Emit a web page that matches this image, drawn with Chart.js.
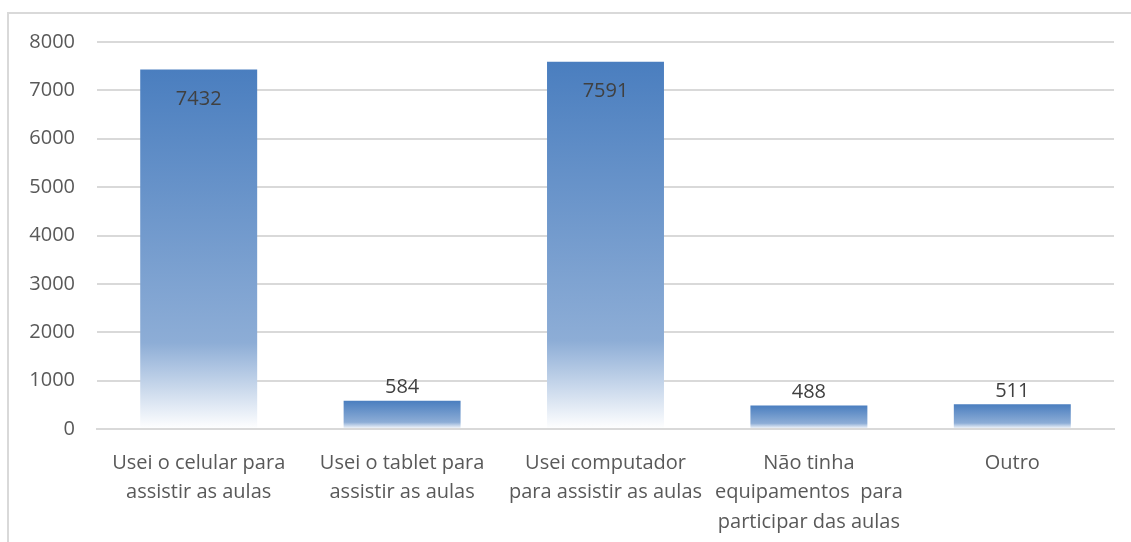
<!DOCTYPE html>
<html>
<head>
<meta charset="utf-8">
<script src="https://cdn.jsdelivr.net/npm/chart.js@4"></script>
<style>
  html, body { margin: 0; padding: 0; background: #fff; }
  #wrap { position: absolute; left: 0; top: 0; width: 1131px; height: 542px; }
  #frame { position: absolute; left: 7px; top: 12px; right: -4px; bottom: -4px;
           border-top: 2px solid #d9d9d9; border-left: 2px solid #d9d9d9; }
</style>
</head>
<body>
<div id="wrap">
  <div id="frame"></div>
  <canvas id="chart" width="1131" height="542"></canvas>
</div>
<script>
// categories and values
const categories = [
  ['Usei o celular para', 'assistir as aulas'],
  ['Usei o tablet para', 'assistir as aulas'],
  ['Usei computador', 'para assistir as aulas'],
  ['Não tinha', 'equipamentos  para', 'participar das aulas'],
  ['Outro']
];
const respostas = [7432, 584, 7591, 488, 511];
const yTicks = [0, 1000, 2000, 3000, 4000, 5000, 6000, 7000, 8000];

const FONT = '"Open Sans", Carlito, sans-serif';

// vertical gradient per bar, blue at top fading to white at base
function barGradient(context) {
  const chart = context.chart;
  const y = chart.scales.y;
  if (!y || !chart.chartArea) return '#4a7ebf';
  const top = y.getPixelForValue(context.raw);
  const base = y.getPixelForValue(0);
  const g = chart.ctx.createLinearGradient(0, top, 0, base);
  g.addColorStop(0, '#4a7ebf');
  g.addColorStop(0.76, '#8dadd6');
  g.addColorStop(1, '#ffffff');
  return g;
}

// value labels: above the bar, or inside its top when there is no room
const valueLabels = {
  id: 'valueLabels',
  afterDatasetsDraw(chart) {
    const { ctx, chartArea } = chart;
    const meta = chart.getDatasetMeta(0);
    ctx.save();
    ctx.font = '20px ' + FONT;
    ctx.fillStyle = '#404040';
    ctx.textAlign = 'center';
    ctx.textBaseline = 'middle';
    meta.data.forEach((bar, i) => {
      const room = bar.y - chartArea.top;
      const ly = room > 34 ? bar.y - 13 : bar.y + 30;
      ctx.fillText(respostas[i], bar.x, ly);
    });
    ctx.restore();
  }
};

new Chart(document.getElementById('chart'), {
  type: 'bar',
  data: {
    labels: categories,
    datasets: [{
      data: respostas,
      backgroundColor: barGradient,
      borderWidth: 0,
      barPercentage: 0.575,
      categoryPercentage: 1
    }]
  },
  options: {
    responsive: false,
    animation: false,
    layout: { padding: { left: 0, right: 17, top: 42, bottom: 0 } },
    scales: {
      x: {
        grid: { display: false, drawTicks: false },
        border: { color: '#d9d9d9', width: 2 },
        ticks: {
          color: '#595959',
          font: { family: FONT, size: 20, lineHeight: 1.48 },
          padding: 19,
          maxRotation: 0,
          autoSkip: false
        },
        afterFit(scale) { scale.height = 542 - 429; }
      },
      y: {
        min: 0,
        max: 8000,
        afterBuildTicks(scale) { scale.ticks = yTicks.map(v => ({ value: v })); },
        grid: { color: '#d9d9d9', lineWidth: 2, drawTicks: false },
        border: { display: false },
        ticks: {
          color: '#595959',
          font: { family: FONT, size: 20 },
          padding: 22,
          callback: (v) => String(v)
        },
        afterFit(scale) { scale.width = 97; }
      }
    },
    plugins: {
      legend: { display: false },
      tooltip: { enabled: false }
    }
  },
  plugins: [valueLabels]
});
</script>
</body>
</html>
